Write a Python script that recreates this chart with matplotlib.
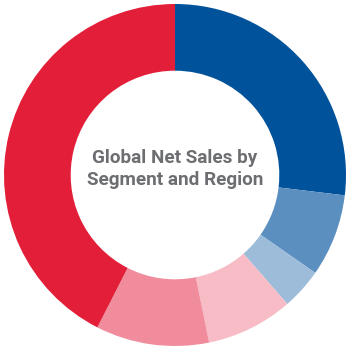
import matplotlib.pyplot as plt

# segment / region shares
labels = ['Seg A', 'Seg B', 'Seg C', 'Region A', 'Region B', 'Region C']
shares = [26.9, 7.8, 3.9, 8.2, 10.7, 42.5]
colors = ['#00529b', '#5b8fc0', '#9cbcda', '#f7bcc6', '#f08c9b', '#e31e39']

fig = plt.figure(figsize=(3.46, 3.47), dpi=100)
ax = fig.add_axes([0, 0, 1, 1])

ax.pie(shares, colors=colors, startangle=90, counterclock=False, radius=1,
       wedgeprops=dict(width=0.39, edgecolor='none'))

# center text
ax.text(0, 0.035, 'Global Net Sales by\nSegment and Region', ha='center', va='center',
        fontsize=13.6, fontweight='bold', color='#6d6e71', family='Roboto',
        linespacing=1.3)

ax.set_xlim(-175 / 171, 171 / 171)
ax.set_ylim(-172 / 171, 175 / 171)
ax.axis('off')

fig.savefig('out.png', dpi=100)
